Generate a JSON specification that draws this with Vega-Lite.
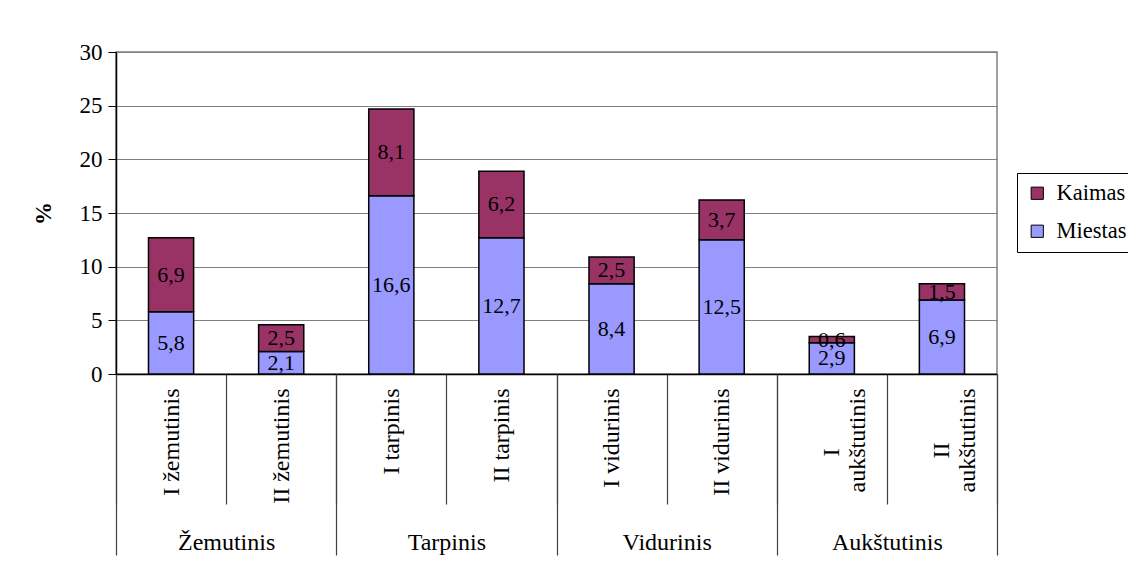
{
  "$schema": "https://vega.github.io/schema/vega-lite/v6.json",
  "width": 881,
  "height": 322,
  "autosize": "none",
  "padding": {"left": 116, "top": 52, "right": 131, "bottom": 198},
  "background": "white",
  "config": {
    "font": "Liberation Serif",
    "view": {"stroke": "#808080", "strokeWidth": 1.5},
    "locale": {"number": {"decimal": ",", "thousands": " ", "grouping": [3], "currency": ["", ""]}},
    "axis": {"labelFont": "Liberation Serif", "titleFont": "Liberation Serif", "labelColor": "black", "titleColor": "black"}
  },
  "data": {
    "values": [
      {"cat": "I žemutinis", "group": "Žemutinis", "series": "Miestas", "value": 5.8},
      {"cat": "I žemutinis", "group": "Žemutinis", "series": "Kaimas", "value": 6.9},
      {"cat": "II žemutinis", "group": "Žemutinis", "series": "Miestas", "value": 2.1},
      {"cat": "II žemutinis", "group": "Žemutinis", "series": "Kaimas", "value": 2.5},
      {"cat": "I tarpinis", "group": "Tarpinis", "series": "Miestas", "value": 16.6},
      {"cat": "I tarpinis", "group": "Tarpinis", "series": "Kaimas", "value": 8.1},
      {"cat": "II tarpinis", "group": "Tarpinis", "series": "Miestas", "value": 12.7},
      {"cat": "II tarpinis", "group": "Tarpinis", "series": "Kaimas", "value": 6.2},
      {"cat": "I vidurinis", "group": "Vidurinis", "series": "Miestas", "value": 8.4},
      {"cat": "I vidurinis", "group": "Vidurinis", "series": "Kaimas", "value": 2.5},
      {"cat": "II vidurinis", "group": "Vidurinis", "series": "Miestas", "value": 12.5},
      {"cat": "II vidurinis", "group": "Vidurinis", "series": "Kaimas", "value": 3.7},
      {"cat": "I aukštutinis", "group": "Aukštutinis", "series": "Miestas", "value": 2.9},
      {"cat": "I aukštutinis", "group": "Aukštutinis", "series": "Kaimas", "value": 0.6},
      {"cat": "II aukštutinis", "group": "Aukštutinis", "series": "Miestas", "value": 6.9},
      {"cat": "II aukštutinis", "group": "Aukštutinis", "series": "Kaimas", "value": 1.5}
    ]
  },
  "layer": [
    {
      "layer": [
        {
          "mark": {"type": "bar", "width": {"band": 0.41}, "stroke": "black", "strokeWidth": 1.5},
          "encoding": {
            "x": {
              "field": "cat", "type": "nominal", "sort": null,
              "scale": {"paddingInner": 0, "paddingOuter": 0},
              "axis": {
                "title": null, "labelAngle": -90, "labelAlign": "right",
                "labelPadding": -116,
                "labelBaseline": "middle", "labelFontSize": 24,
                "tickBand": "extent", "tickSize": 130, "tickColor": "#404040", "tickWidth": 1.2,
                "domainColor": "black", "domainWidth": 1.5, "labelLimit": 0, "labelOverlap": false, "grid": false,
                "labelExpr": "datum.value == 'I aukštutinis' ? ['I\u00a0\u00a0\u00a0\u00a0\u00a0\u00a0\u00a0\u00a0\u00a0\u00a0\u200b', 'aukštutinis'] : datum.value == 'II aukštutinis' ? ['II\u00a0\u00a0\u00a0\u00a0\u00a0\u00a0\u00a0\u00a0\u00a0\u200b', 'aukštutinis'] : datum.value"
              }
            },
            "y": {
              "field": "value", "type": "quantitative", "stack": "zero", "title": "%",
              "scale": {"domain": [0, 30]},
              "axis": {
                "title": "%", "titleFontWeight": "bold", "titleFontSize": 23, "titlePadding": 24,
                "values": [0, 5, 10, 15, 20, 25, 30], "labelFontSize": 23, "tickSize": 8, "tickColor": "black",
                "domainColor": "black", "domainWidth": 1.5, "gridColor": "#808080", "gridWidth": 1.2, "labelPadding": 6
              }
            },
            "color": {
              "field": "series", "type": "nominal",
              "scale": {"domain": ["Kaimas", "Miestas"], "range": ["#993366", "#9999FF"]},
              "legend": {
                "title": null, "orient": "none", "legendX": 901, "legendY": 121,
                "strokeColor": "black", "fillColor": "white", "padding": 9,
                "symbolType": "square", "symbolSize": 150, "symbolStrokeColor": "black", "symbolStrokeWidth": 1,
                "symbolOpacity": 1, "labelFontSize": 22.5, "labelFont": "Liberation Serif", "rowPadding": 15, "labelOffset": 8
              }
            },
            "order": {"field": "series", "sort": "descending"}
          }
        },
        {
          "transform": [
            {"stack": "value", "groupby": ["cat"], "sort": [{"field": "series", "order": "descending"}], "as": ["v0", "v1"]},
            {"calculate": "(datum.v0 + datum.v1) / 2", "as": "mid"}
          ],
          "mark": {"type": "text", "fontSize": 22, "color": "black", "baseline": "middle"},
          "encoding": {
            "x": {"field": "cat", "type": "nominal", "sort": null},
            "y": {"field": "mid", "type": "quantitative", "title": "%"},
            "text": {"field": "value", "type": "quantitative", "format": ".1f"}
          }
        }
      ]
    },
    {
      "mark": {"type": "text", "opacity": 0},
      "encoding": {
        "x": {
          "field": "group", "type": "nominal", "sort": null,
          "scale": {"domain": ["Žemutinis", "Tarpinis", "Vidurinis", "Aukštutinis"], "paddingInner": 0, "paddingOuter": 0},
          "axis": {
            "orient": "bottom", "title": null, "domain": false, "tickBand": "extent", "tickSize": 181,
            "labelPadding": -25, "labelFontSize": 24, "labelAngle": 0, "tickColor": "#404040", "tickWidth": 1.2, "grid": false
          }
        },
        "text": {"value": ""}
      }
    }
  ],
  "resolve": {"scale": {"x": "independent"}, "axis": {"x": "independent"}}
}
